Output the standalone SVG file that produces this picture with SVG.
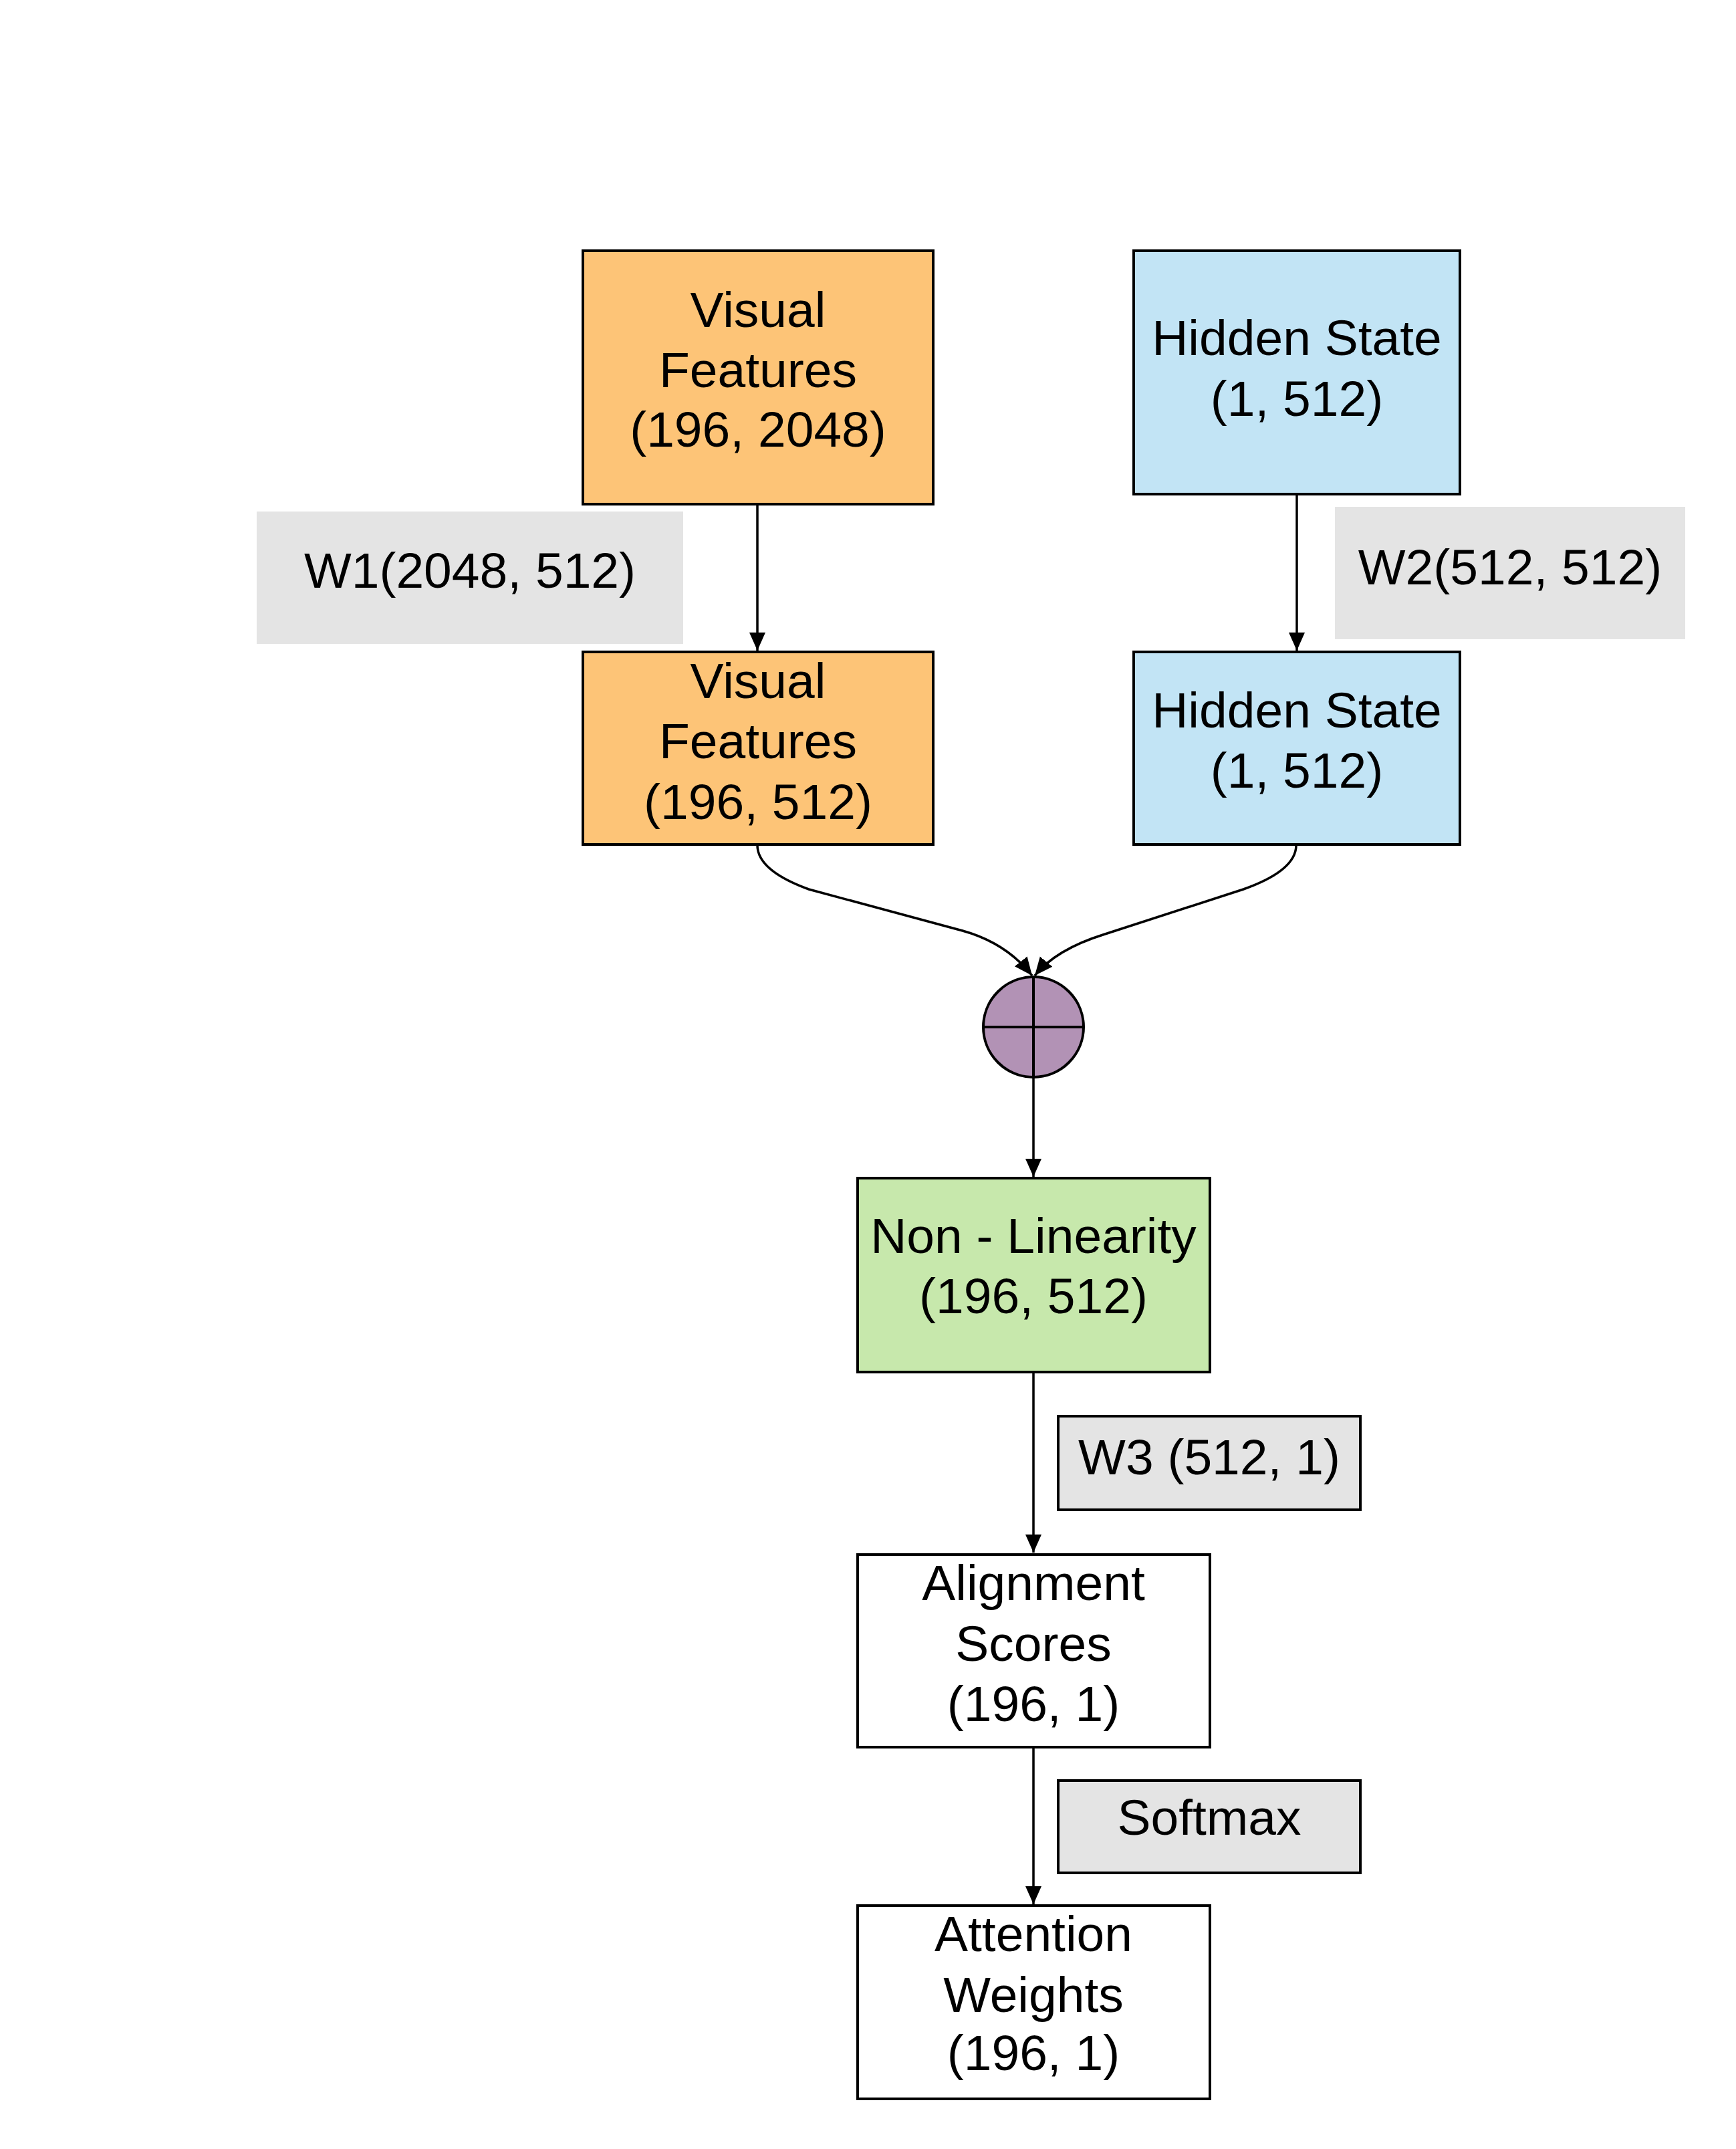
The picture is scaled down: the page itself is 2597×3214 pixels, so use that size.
<svg xmlns="http://www.w3.org/2000/svg" width="2597" height="3214" viewBox="0 0 2597 3214">
<style>
text{font-family:"Liberation Sans",Arial,sans-serif;font-size:75px;fill:#000;text-anchor:middle}
.box{stroke:#000;stroke-width:4}
.vf{fill:#FDC477}
.hs{fill:#C2E4F5}
.nl{fill:#C7E8AC}
.wh{fill:#FFFFFF}
.lbl{fill:#E4E4E4}
.edge{fill:none;stroke:#000;stroke-width:3.5;marker-end:url(#arr)}
</style>
<defs>
<marker id="arr" markerUnits="userSpaceOnUse" viewBox="0 0 27 26" refX="27" refY="13" markerWidth="27" markerHeight="26" orient="auto">
<path d="M0,1 L27,13 L0,25 Z" fill="#000"/>
</marker>
</defs>
<rect width="2597" height="3214" fill="#FFFFFF"/>
<g id="connectors">
<path class="edge" d="M1133,754 L1133,973"/>
<path class="edge" d="M1940,739 L1940,973"/>
<path class="edge" d="M1133,1264 Q1133,1302 1210,1330 L1440,1392 Q1505,1410 1544,1459"/>
<path class="edge" d="M1939,1264 Q1939,1302 1860,1330 L1650,1398 Q1580,1420 1548,1459"/>
<path class="edge" d="M1546,1611 L1546,1760"/>
<path class="edge" d="M1546,2052 L1546,2322"/>
<path class="edge" d="M1546,2613 L1546,2848"/>
</g>
<g id="w1">
<rect class="lbl" x="384" y="765" width="638" height="198"/>
<text x="703" y="879">W1(2048, 512)</text>
</g>
<g id="w2">
<rect class="lbl" x="1997" y="758" width="524" height="198"/>
<text x="2259" y="874">W2(512, 512)</text>
</g>
<g id="visual-features-1">
<rect class="box vf" x="872" y="375" width="524" height="379"/>
<text x="1134" y="489">Visual</text>
<text x="1134" y="579">Features</text>
<text x="1134" y="668">(196, 2048)</text>
</g>
<g id="hidden-state-1">
<rect class="box hs" x="1696" y="375" width="488" height="364"/>
<text x="1940" y="531">Hidden State</text>
<text x="1940" y="622">(1, 512)</text>
</g>
<g id="visual-features-2">
<rect class="box vf" x="872" y="975" width="524" height="288"/>
<text x="1134" y="1044">Visual</text>
<text x="1134" y="1134">Features</text>
<text x="1134" y="1225">(196, 512)</text>
</g>
<g id="hidden-state-2">
<rect class="box hs" x="1696" y="975" width="488" height="288"/>
<text x="1940" y="1088">Hidden State</text>
<text x="1940" y="1178">(1, 512)</text>
</g>
<g id="sum">
<circle cx="1546" cy="1536" r="75" fill="#B292B5" stroke="#000" stroke-width="4"/>
<line x1="1471" y1="1536" x2="1621" y2="1536" stroke="#000" stroke-width="4"/>
<line x1="1546" y1="1461" x2="1546" y2="1611" stroke="#000" stroke-width="4"/>
</g>
<g id="non-linearity">
<rect class="box nl" x="1283" y="1762" width="527" height="290"/>
<text x="1546" y="1874">Non - Linearity</text>
<text x="1546" y="1964">(196, 512)</text>
</g>
<g id="w3">
<rect class="box lbl" x="1583" y="2118" width="452" height="140"/>
<text x="1809" y="2205">W3 (512, 1)</text>
</g>
<g id="alignment-scores">
<rect class="box wh" x="1283" y="2325" width="527" height="288"/>
<text x="1546" y="2393">Alignment</text>
<text x="1546" y="2484">Scores</text>
<text x="1546" y="2574">(196, 1)</text>
</g>
<g id="softmax">
<rect class="box lbl" x="1583" y="2663" width="452" height="138"/>
<text x="1809" y="2744">Softmax</text>
</g>
<g id="attention-weights">
<rect class="box wh" x="1283" y="2850" width="527" height="289"/>
<text x="1546" y="2918">Attention</text>
<text x="1546" y="3009">Weights</text>
<text x="1546" y="3096">(196, 1)</text>
</g>
</svg>
